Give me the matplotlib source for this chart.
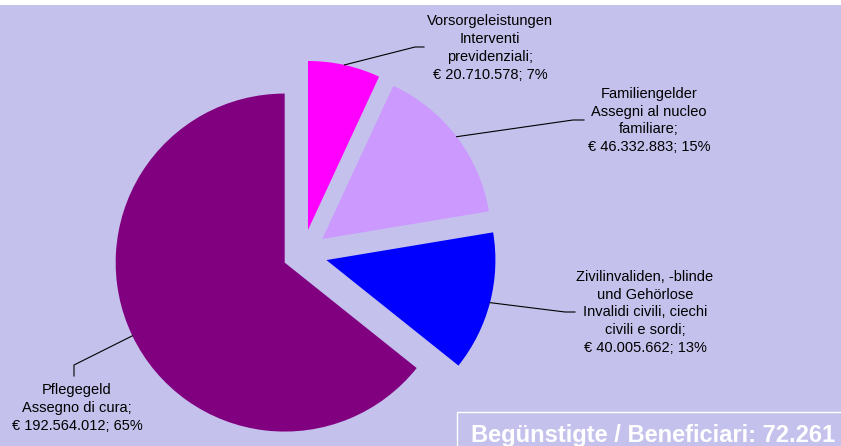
import matplotlib.pyplot as plt
import matplotlib.patches as patches
import numpy as np

# data (clockwise from 12 o'clock)
categories = [
    "Vorsorgeleistungen\nInterventi\nprevidenziali",
    "Familiengelder\nAssegni al nucleo\nfamiliare",
    "Zivilinvaliden, -blinde\nund Gehörlose\nInvalidi civili, ciechi\ncivili e sordi",
    "Pflegegeld\nAssegno di cura",
]
amounts = [20710578, 46332883, 40005662, 192564012]
percents = [7, 15, 13, 65]
beneficiaries = "72.261"

# styles
colors = ['#FF00FF', '#CC99FF', '#0000FF', '#800080']
bg = '#C4C2EC'
plt.rcParams['font.family'] = ['Liberation Sans', 'DejaVu Sans']

# layout in pixels (y measured from the top)
W, H, TOP = 841, 446, 5
CX, CY, R = 302.7, 253.9, 169.0
explode_px = [24.5, 24.5, 24.5, 20.0]
text_pos = [(490, 48), (649, 120.5), (645, 312.5), (77, 408)]
elbows = [((415, 47), (424, 47)),
          ((573, 120), (584, 120)),
          ((565, 312), (575, 312)),
          ((74, 365), (74, 376))]


def dx(px):
    return (px - CX) / R


def dy(py):
    return (CY - py) / R


fig = plt.figure(figsize=(W / 100, H / 100), dpi=100)
fig.patch.set_facecolor('white')
ax = fig.add_axes([0, 0, 1, (H - TOP) / H])
ax.set_facecolor(bg)

wedges, _ = ax.pie(amounts, colors=colors, startangle=90, counterclock=False,
                   radius=1, center=(0, 0), frame=True,
                   explode=[e / R for e in explode_px],
                   wedgeprops=dict(linewidth=0))
ax.set_xlim(dx(0), dx(W))
ax.set_ylim(dy(H), dy(TOP))
ax.set_aspect('auto')
ax.set_xticks([])
ax.set_yticks([])
for spine in ax.spines.values():
    spine.set_visible(False)

# labels with leader lines
for w, name, amt, pct, (tx, ty), (e1, e2) in zip(wedges, categories, amounts,
                                                  percents, text_pos, elbows):
    theta = np.deg2rad((w.theta1 + w.theta2) / 2)
    sx = w.center[0] + w.r * np.cos(theta)
    sy = w.center[1] + w.r * np.sin(theta)
    ax.plot([sx, dx(e1[0]), dx(e2[0])], [sy, dy(e1[1]), dy(e2[1])],
            color='black', lw=0.8)
    amt_txt = f"{amt:,}".replace(",", ".")
    label = f"{name};\n€ {amt_txt}; {pct}%"
    ax.text(dx(tx), dy(ty), label, ha='center', va='center',
            multialignment='center', fontsize=10.5, linespacing=1.36,
            color='#000000')

# beneficiaries box
box = patches.Rectangle((dx(457), dy(460)), dx(860) - dx(457), dy(412) - dy(460),
                        fill=False, edgecolor='white', lw=1, clip_on=True)
ax.add_patch(box)
ax.text(dx(471), dy(442), f"Begünstigte / Beneficiari: {beneficiaries}",
        ha='left', va='baseline', fontsize=17, fontweight='bold', color='white')

plt.savefig('out.png', dpi=100, facecolor=fig.get_facecolor())
